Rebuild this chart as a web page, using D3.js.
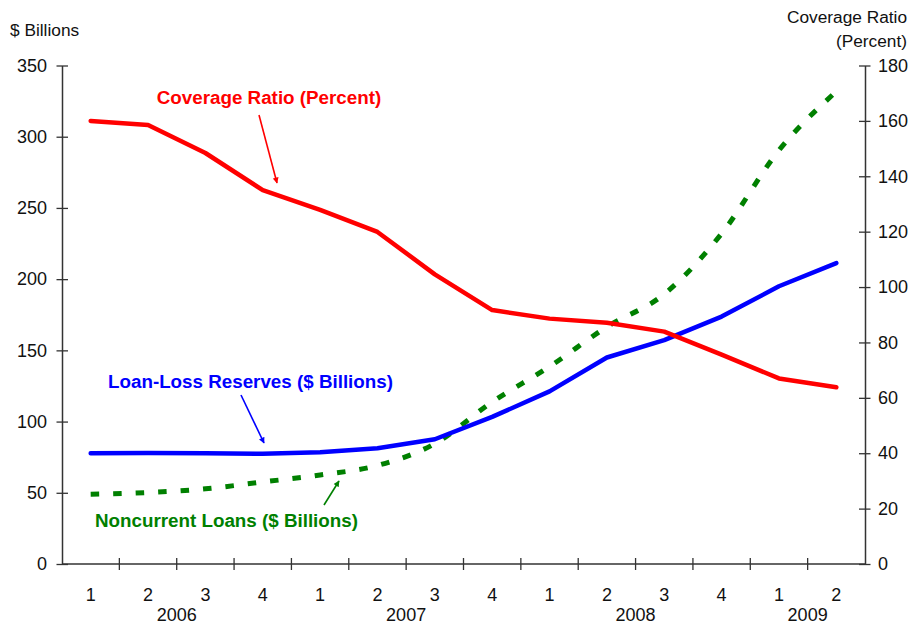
<!DOCTYPE html>
<html>
<head>
<meta charset="utf-8">
<script src="https://cdn.jsdelivr.net/npm/d3@7"></script>
<style>
  html, body { margin: 0; padding: 0; background: #fff; }
  svg { display: block; font-family: "Liberation Sans", Arial, Helvetica, sans-serif; }
</style>
</head>
<body>
<svg id="chart" width="912" height="629"></svg>
<script>
// Quarters 2006 Q1 – 2009 Q2
const quarters = ["1","2","3","4","1","2","3","4","1","2","3","4","1","2"];
const years = [
  { label: "2006", from: 0, to: 3 },
  { label: "2007", from: 4, to: 7 },
  { label: "2008", from: 8, to: 11 },
  { label: "2009", from: 12, to: 13 }
];

// Coverage ratio (percent, right axis)
const coverageRatio = [160.0, 158.5, 148.4, 135.0, 127.9, 119.9, 104.6, 91.7, 88.6, 87.1, 83.9, 75.6, 67.0, 63.8];
// Loan-loss reserves ($ billions, left axis)
const loanLossReserves = [77.7, 77.9, 77.7, 77.4, 78.4, 81.3, 87.6, 103.3, 121.2, 145.0, 157.2, 173.7, 195.0, 211.3];
// Noncurrent loans ($ billions, left axis)
const noncurrentLoans = [49.0, 50.2, 52.8, 57.6, 62.5, 69.2, 84.5, 113.8, 138.6, 166.5, 189.5, 232.0, 290.5, 331.8];

const leftTicks = [0, 50, 100, 150, 200, 250, 300, 350];
const rightTicks = [0, 20, 40, 60, 80, 100, 120, 140, 160, 180];

const svg = d3.select("#chart");
const plot = { left: 62, right: 865, top: 65.5, bottom: 564 };
const axisColor = "#333";

const x = d3.scaleBand().domain(d3.range(quarters.length)).range([plot.left, plot.right]).padding(0);
const cx = i => x(i) + x.bandwidth() / 2;
const yL = d3.scaleLinear().domain([0, 350]).range([plot.bottom, plot.top]);
const yR = d3.scaleLinear().domain([0, 180]).range([plot.bottom, plot.top]);

// Left axis
const gL = svg.append("g").attr("transform", `translate(${plot.left},0)`)
  .call(d3.axisLeft(yL).tickValues(leftTicks).tickSize(0).tickPadding(15));
gL.select(".domain").attr("stroke", axisColor).attr("stroke-width", 1.5);
gL.selectAll(".tick text").attr("font-size", 18).attr("fill", "#111");
gL.selectAll(".tick").append("line").attr("x1", -5.5).attr("x2", 6).attr("stroke", axisColor).attr("stroke-width", 1.3);

// Right axis
const gR = svg.append("g").attr("transform", `translate(${plot.right},0)`)
  .call(d3.axisRight(yR).tickValues(rightTicks).tickSize(0).tickPadding(13));
gR.select(".domain").attr("stroke", axisColor).attr("stroke-width", 1.5);
gR.selectAll(".tick text").attr("font-size", 18).attr("fill", "#111");
gR.selectAll(".tick").append("line").attr("x1", -6).attr("x2", 5.5).attr("stroke", axisColor).attr("stroke-width", 1.3);

// Bottom axis: baseline, tick marks between quarters, quarter and year labels
svg.append("line")
  .attr("x1", plot.left).attr("x2", plot.right)
  .attr("y1", plot.bottom).attr("y2", plot.bottom)
  .attr("stroke", axisColor).attr("stroke-width", 1.5);

svg.append("g").selectAll("line")
  .data(d3.range(1, quarters.length))
  .join("line")
  .attr("x1", i => x(i)).attr("x2", i => x(i))
  .attr("y1", plot.bottom - 6).attr("y2", plot.bottom + 6)
  .attr("stroke", axisColor).attr("stroke-width", 1.3);

svg.append("g").selectAll("text")
  .data(quarters)
  .join("text")
  .attr("x", (d, i) => cx(i))
  .attr("y", 601)
  .attr("text-anchor", "middle")
  .attr("font-size", 18)
  .attr("fill", "#111")
  .text(d => d);

svg.append("g").selectAll("text")
  .data(years)
  .join("text")
  .attr("x", d => (cx(d.from) + cx(d.to)) / 2)
  .attr("y", 621)
  .attr("text-anchor", "middle")
  .attr("font-size", 18)
  .attr("fill", "#111")
  .text(d => d.label);

// Axis titles
svg.append("text").attr("x", 10).attr("y", 36).attr("font-size", 17.3).attr("fill", "#111").text("$ Billions");
svg.append("text").attr("x", 907).attr("y", 23).attr("text-anchor", "end").attr("font-size", 17.3).attr("fill", "#111").text("Coverage Ratio");
svg.append("text").attr("x", 907).attr("y", 47).attr("text-anchor", "end").attr("font-size", 17.3).attr("fill", "#111").text("(Percent)");

// Series lines
const green = "#008000", blue = "#0000ff", red = "#ff0000";

svg.append("path")
  .datum(noncurrentLoans)
  .attr("fill", "none")
  .attr("stroke", green)
  .attr("stroke-width", 5)
  .attr("stroke-dasharray", "8.5,14")
  .attr("d", d3.line().x((d, i) => cx(i)).y(d => yL(d)).curve(d3.curveMonotoneX));

svg.append("path")
  .datum(loanLossReserves)
  .attr("fill", "none")
  .attr("stroke", blue)
  .attr("stroke-width", 4.5)
  .attr("stroke-linejoin", "round")
  .attr("stroke-linecap", "round")
  .attr("d", d3.line().x((d, i) => cx(i)).y(d => yL(d)));

svg.append("path")
  .datum(coverageRatio)
  .attr("fill", "none")
  .attr("stroke", red)
  .attr("stroke-width", 4.5)
  .attr("stroke-linejoin", "round")
  .attr("stroke-linecap", "round")
  .attr("d", d3.line().x((d, i) => cx(i)).y(d => yR(d)));

// Arrow markers for the annotations
const defs = svg.append("defs");
[["arrRed", red], ["arrBlue", blue], ["arrGreen", green]].forEach(([id, c]) => {
  defs.append("marker")
    .attr("id", id)
    .attr("viewBox", "0 0 10 10")
    .attr("refX", 9).attr("refY", 5)
    .attr("markerWidth", 7).attr("markerHeight", 6)
    .attr("markerUnits", "userSpaceOnUse")
    .attr("orient", "auto")
    .append("path").attr("d", "M0,0 L10,5 L0,10 Z").attr("fill", c);
});

const notes = [
  { text: "Coverage Ratio (Percent)", color: red, tx: 269, ty: 104, ax1: 259, ay1: 115, ax2: 277, ay2: 183, marker: "arrRed" },
  { text: "Loan-Loss Reserves ($ Billions)", color: blue, tx: 250.5, ty: 388, ax1: 241, ay1: 395, ax2: 264, ay2: 443, marker: "arrBlue" },
  { text: "Noncurrent Loans ($ Billions)", color: green, tx: 226.5, ty: 527, ax1: 324, ay1: 505, ax2: 339, ay2: 481, marker: "arrGreen" }
];
notes.forEach(n => {
  svg.append("text")
    .attr("x", n.tx).attr("y", n.ty)
    .attr("text-anchor", "middle")
    .attr("font-size", 18.8)
    .attr("font-weight", "bold")
    .attr("fill", n.color)
    .text(n.text);
  svg.append("line")
    .attr("x1", n.ax1).attr("y1", n.ay1)
    .attr("x2", n.ax2).attr("y2", n.ay2)
    .attr("stroke", n.color).attr("stroke-width", 1.6)
    .attr("marker-end", `url(#${n.marker})`);
});
</script>
</body>
</html>
